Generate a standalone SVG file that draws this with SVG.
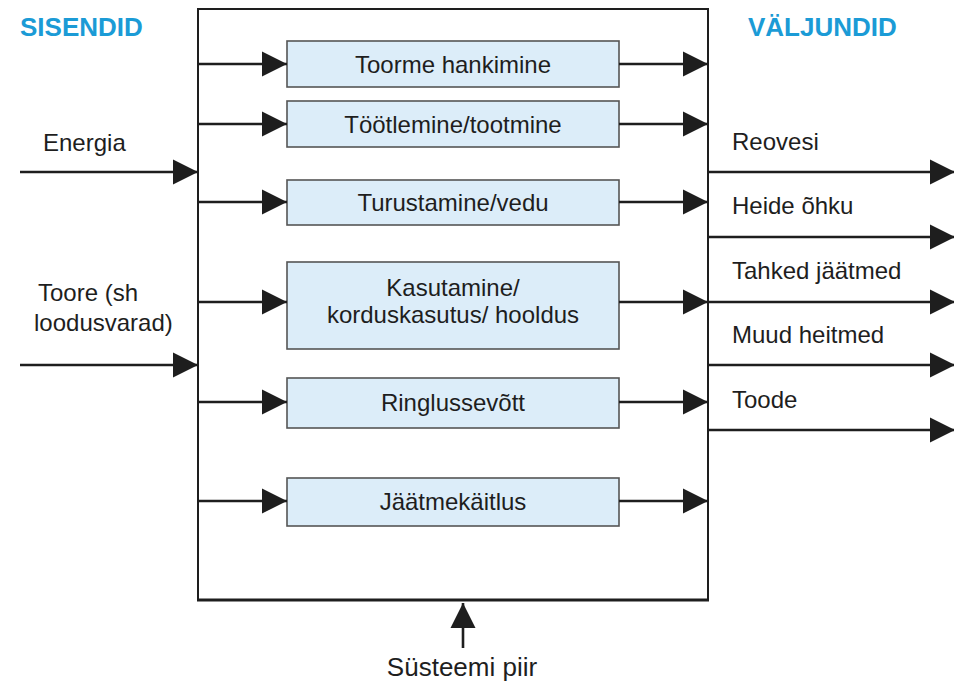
<svg xmlns="http://www.w3.org/2000/svg" width="954" height="697" viewBox="0 0 954 697">
<style>
.t{font-family:"Liberation Sans",Arial,sans-serif;font-size:24px;fill:#1e1e1e}
.c{text-anchor:middle}
.h{font-family:"Liberation Sans",Arial,sans-serif;font-size:26px;font-weight:bold;fill:#1b9bd6}
.box{fill:#dcedf9;stroke:#555;stroke-width:1.6}
.ln{stroke:#1e1e1e;stroke-width:2.6;fill:none}
</style>
<defs>
<marker id="ah" markerUnits="userSpaceOnUse" markerWidth="26" markerHeight="26" refX="25" refY="12.5" orient="auto" overflow="visible">
<path d="M0,0 L25,12.5 L0,25 Z" fill="#1e1e1e"/>
</marker>
</defs>
<rect width="954" height="697" fill="#fff"/>
<text class="h" x="20" y="36">SISENDID</text>
<text class="h" x="748" y="36">VÄLJUNDID</text>
<g id="system">
<rect x="198" y="9" width="510" height="591" fill="none" stroke="#1e1e1e" stroke-width="2"/>
<line x1="197" y1="600" x2="709" y2="600" stroke="#1e1e1e" stroke-width="3"/>
</g>
<g id="n1"><rect class="box" x="287" y="41" width="332" height="46"/><text class="t c" x="453" y="73">Toorme hankimine</text></g>
<g id="n2"><rect class="box" x="287" y="101" width="332" height="46"/><text class="t c" x="453" y="133">Töötlemine/tootmine</text></g>
<g id="n3"><rect class="box" x="287" y="180" width="332" height="45"/><text class="t c" x="453" y="211">Turustamine/vedu</text></g>
<g id="n4"><rect class="box" x="287" y="262" width="332" height="87"/><text class="t c" x="453" y="296">Kasutamine/</text><text class="t c" x="453" y="323">korduskasutus/ hooldus</text></g>
<g id="n5"><rect class="box" x="287" y="378" width="332" height="50"/><text class="t c" x="453" y="411">Ringlussevõtt</text></g>
<g id="n6"><rect class="box" x="287" y="478" width="332" height="48"/><text class="t c" x="453" y="510">Jäätmekäitlus</text></g>
<g id="connectors">
<line class="ln" x1="198" y1="64" x2="287" y2="64" marker-end="url(#ah)"/>
<line class="ln" x1="198" y1="124" x2="287" y2="124" marker-end="url(#ah)"/>
<line class="ln" x1="198" y1="202" x2="287" y2="202" marker-end="url(#ah)"/>
<line class="ln" x1="198" y1="302" x2="287" y2="302" marker-end="url(#ah)"/>
<line class="ln" x1="198" y1="402" x2="287" y2="402" marker-end="url(#ah)"/>
<line class="ln" x1="198" y1="501" x2="287" y2="501" marker-end="url(#ah)"/>
<line class="ln" x1="619" y1="64" x2="708" y2="64" marker-end="url(#ah)"/>
<line class="ln" x1="619" y1="124" x2="708" y2="124" marker-end="url(#ah)"/>
<line class="ln" x1="619" y1="202" x2="708" y2="202" marker-end="url(#ah)"/>
<line class="ln" x1="619" y1="302" x2="708" y2="302" marker-end="url(#ah)"/>
<line class="ln" x1="619" y1="402" x2="708" y2="402" marker-end="url(#ah)"/>
<line class="ln" x1="619" y1="501" x2="708" y2="501" marker-end="url(#ah)"/>
<line class="ln" x1="20" y1="172" x2="198" y2="172" marker-end="url(#ah)"/>
<line class="ln" x1="20" y1="365" x2="198" y2="365" marker-end="url(#ah)"/>
<line class="ln" x1="708" y1="172" x2="955" y2="172" marker-end="url(#ah)"/>
<line class="ln" x1="708" y1="237" x2="955" y2="237" marker-end="url(#ah)"/>
<line class="ln" x1="708" y1="302" x2="955" y2="302" marker-end="url(#ah)" stroke-width="1.8" stroke="#444"/>
<line class="ln" x1="708" y1="365" x2="955" y2="365" marker-end="url(#ah)"/>
<line class="ln" x1="708" y1="430" x2="955" y2="430" marker-end="url(#ah)"/>
<line class="ln" x1="463" y1="648" x2="463" y2="603" marker-end="url(#ah)"/>
</g>
<text class="t" x="43" y="151">Energia</text>
<text class="t" x="38" y="301">Toore (sh</text>
<text class="t" x="34" y="331">loodusvarad)</text>
<text class="t" x="732" y="150">Reovesi</text>
<text class="t" x="732" y="214">Heide õhku</text>
<text class="t" x="732" y="279">Tahked jäätmed</text>
<text class="t" x="732" y="343">Muud heitmed</text>
<text class="t" x="732" y="408">Toode</text>
<text class="t c" x="462" y="676" style="font-size:26px">Süsteemi piir</text>
</svg>
